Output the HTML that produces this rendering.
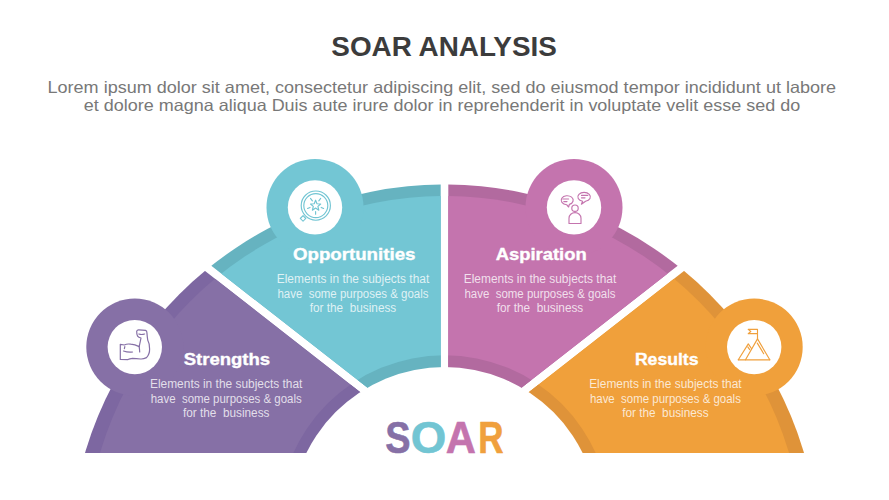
<!DOCTYPE html>
<html><head><meta charset="utf-8"><style>
html,body{margin:0;padding:0;background:#fff;}
svg{display:block;}
text{font-family:"Liberation Sans",sans-serif;text-anchor:middle;}
.ti{font-weight:bold;font-size:27px;fill:#3c3c3c;}
.st{font-size:16.5px;fill:#787878;}
.hd{font-weight:bold;font-size:16px;fill:#ffffff;stroke:#ffffff;stroke-width:0.35px;}
.bd{font-size:12.3px;fill:#ffffff;fill-opacity:0.78;white-space:pre;}
.so{font-weight:bold;font-size:43.5px;stroke-width:0.6px;stroke-linejoin:round;}
</style></head><body>
<svg width="889" height="500" viewBox="0 0 889 500">
<defs>
<clipPath id="cb"><rect x="0" y="0" width="889" height="453.0"/></clipPath>
<clipPath id="wS"><polygon points="442.04,456.15 -503.58,-282.64 -2000.00,-282.64 -2000.00,503.00 442.04,503.00"/></clipPath>
<clipPath id="wO"><polygon points="446.96,449.85 -498.65,-288.95 -498.65,-2000.00 440.70,-2000.00 440.70,503.00 446.96,503.00"/></clipPath>
<clipPath id="wA"><polygon points="442.04,449.85 1387.65,-288.95 1387.65,-2000.00 448.30,-2000.00 448.30,503.00 442.04,503.00"/></clipPath>
<clipPath id="wR"><polygon points="446.96,456.15 1392.58,-282.64 2889.00,-282.64 2889.00,503.00 446.96,503.00"/></clipPath>
</defs>
<g clip-path="url(#cb)">
<g clip-path="url(#wS)">
<circle cx="444.5" cy="559.5" r="375.0" fill="#7d67a1"/>
<circle cx="444.5" cy="555.5" r="359.5" fill="#8670a6"/>
<circle cx="444.5" cy="521.0" r="165.8" fill="#7d67a1"/>
</g>
<g clip-path="url(#wO)">
<circle cx="444.5" cy="559.5" r="375.0" fill="#66b3c0"/>
<circle cx="444.5" cy="555.5" r="359.5" fill="#73c6d4"/>
<circle cx="444.5" cy="521.0" r="165.8" fill="#66b3c0"/>
</g>
<g clip-path="url(#wA)">
<circle cx="444.5" cy="559.5" r="375.0" fill="#b26a9f"/>
<circle cx="444.5" cy="555.5" r="359.5" fill="#c474ae"/>
<circle cx="444.5" cy="521.0" r="165.8" fill="#b26a9f"/>
</g>
<g clip-path="url(#wR)">
<circle cx="444.5" cy="559.5" r="375.0" fill="#df9339"/>
<circle cx="444.5" cy="555.5" r="359.5" fill="#f0a03b"/>
<circle cx="444.5" cy="521.0" r="165.8" fill="#df9339"/>
</g>
<circle cx="444.5" cy="521.0" r="154.0" fill="#fff"/>
</g>
<circle cx="134.8" cy="347.1" r="48.5" fill="#8670a6"/>
<circle cx="134.8" cy="347.1" r="27.2" fill="#fff"/>
<circle cx="315.0" cy="207.4" r="48.5" fill="#73c6d4"/>
<circle cx="315.0" cy="207.4" r="27.2" fill="#fff"/>
<circle cx="574.0" cy="207.4" r="48.5" fill="#c474ae"/>
<circle cx="574.0" cy="207.4" r="27.2" fill="#fff"/>
<circle cx="754.2" cy="347.1" r="48.5" fill="#f0a03b"/>
<circle cx="754.2" cy="347.1" r="27.2" fill="#fff"/>

<g transform="translate(110,325)" fill="none" stroke="#8670a6" stroke-width="1.2" stroke-linejoin="round" stroke-linecap="round">
<path d="M10.3,34.4 L10.3,19.3 L14.4,20 Q17,18.6 20.7,19.2 Q25,19.4 29.2,21.6 L31,13 Q28.5,12.5 27.6,11.2 Q26.6,9 26.7,6.1 Q27.2,4.8 28.8,4.9 L35.5,5.4 Q37,6 36.9,7.6 Q37.2,12 37.8,15.3 Q39.8,19 39.6,24 Q39.8,29 36.5,32.6 Q33.5,34.2 30.6,34 Q26,33.3 22.5,33.3 Q19.5,33.6 18,34.6 Z"/>
<path d="M28.8,9 Q31.5,10 34.6,9"/>
<path d="M29.2,21.6 Q29.6,24.5 29.7,27"/>
<path d="M13.5,26 Q18,27.6 22.5,27"/>
<path d="M14.8,21.6 L14.4,23.6"/>
</g>
<g transform="translate(295,185)" fill="none" stroke="#72c5d3" stroke-width="1.15" stroke-linejoin="round" stroke-linecap="round">
<circle cx="20.8" cy="20.6" r="14.6"/>
<circle cx="20.8" cy="20.6" r="12.0"/>
<polygon points="20.6,15.2 22.0,18.8 25.7,19.0 22.9,21.4 23.8,25.2 20.6,23.1 17.4,25.2 18.3,21.4 15.5,19.0 19.2,18.8"/>
<path d="M15.5,13.4 L17.4,15.8 M25.7,13.4 L23.8,15.8 M12.6,23.5 L15.0,22.4 M28.6,23.5 L26.2,22.4 M20.6,26.6 L20.6,29.2"/>
<rect x="6.1" y="31.5" width="3.9" height="3.9" transform="rotate(45 8.05 33.45)"/>
</g>
<g transform="translate(550,183)" fill="none" stroke="#c474ae" stroke-width="1.15" stroke-linejoin="round" stroke-linecap="round">
<circle cx="25" cy="25.2" r="3.2"/>
<path d="M19,40.5 V35.2 A6,5.6 0 0 1 31,35.2 V40.5 Z"/>
<path d="M16.6,21.7 A6,4.5 0 1 1 19.4,21.4 L18.6,24 Z"/>
<path d="M12.8,16 L18.6,16 M13.8,18.6 L17,18.6"/>
<path d="M32.6,18.2 A6.3,4.5 0 1 1 35.6,18.2 L31.4,21.2 Z"/>
<path d="M31.5,12.4 L37.8,12.4 M31.5,14.8 L35,14.8"/>
</g>
<g transform="translate(736,326)" fill="none" stroke="#f0a03d" stroke-width="1.15" stroke-linejoin="round" stroke-linecap="round">
<path d="M2.3,33.8 L33.8,33.8"/>
<path d="M9.5,33.8 L21.5,12.9 L33.8,33.8"/>
<path d="M21.3,17.1 L27.7,27.7"/>
<path d="M2.3,33.8 L12.3,17.9 L15.6,22.8"/>
<path d="M11.8,20.9 L13.7,23.6"/>
<path d="M21.5,12.9 L21.5,3.4 L12.2,3.4 L14.8,5.5 L12.2,7.6 L21.5,7.6"/>
</g>


<text x="444.1" y="55.9" class="ti" textLength="225.5" lengthAdjust="spacingAndGlyphs">SOAR ANALYSIS</text>
<text x="441.8" y="92.8" class="st" textLength="788.5" lengthAdjust="spacingAndGlyphs">Lorem ipsum dolor sit amet, consectetur adipiscing elit, sed do eiusmod tempor incididunt ut labore</text>
<text x="442" y="111" class="st" textLength="716.5" lengthAdjust="spacingAndGlyphs">et dolore magna aliqua Duis aute irure dolor in reprehenderit in voluptate velit esse sed do</text>
<text x="226.9" y="365.3" class="hd" textLength="86.5" lengthAdjust="spacingAndGlyphs">Strengths</text>
<text x="354.2" y="259.9" class="hd" textLength="122.5" lengthAdjust="spacingAndGlyphs">Opportunities</text>
<text x="541.2" y="260" class="hd" textLength="91" lengthAdjust="spacingAndGlyphs">Aspiration</text>
<text x="666.7" y="365.3" class="hd" textLength="63.6" lengthAdjust="spacingAndGlyphs">Results</text>
<text x="226.2" y="388" class="bd" textLength="152.5" lengthAdjust="spacingAndGlyphs">Elements in the subjects that</text>
<text x="226.2" y="402.50" class="bd" xml:space="preserve" textLength="151" lengthAdjust="spacingAndGlyphs">have  some purposes &amp; goals</text>
<text x="226.2" y="417.00" class="bd" xml:space="preserve" textLength="86.5" lengthAdjust="spacingAndGlyphs">for the  business</text>
<text x="353" y="283" class="bd" textLength="152.5" lengthAdjust="spacingAndGlyphs">Elements in the subjects that</text>
<text x="353" y="297.50" class="bd" xml:space="preserve" textLength="151" lengthAdjust="spacingAndGlyphs">have  some purposes &amp; goals</text>
<text x="353" y="312.00" class="bd" xml:space="preserve" textLength="86.5" lengthAdjust="spacingAndGlyphs">for the  business</text>
<text x="540" y="283.2" class="bd" textLength="152.5" lengthAdjust="spacingAndGlyphs">Elements in the subjects that</text>
<text x="540" y="297.70" class="bd" xml:space="preserve" textLength="151" lengthAdjust="spacingAndGlyphs">have  some purposes &amp; goals</text>
<text x="540" y="312.20" class="bd" xml:space="preserve" textLength="86.5" lengthAdjust="spacingAndGlyphs">for the  business</text>
<text x="665.4" y="388" class="bd" textLength="152.5" lengthAdjust="spacingAndGlyphs">Elements in the subjects that</text>
<text x="665.4" y="402.50" class="bd" xml:space="preserve" textLength="151" lengthAdjust="spacingAndGlyphs">have  some purposes &amp; goals</text>
<text x="665.4" y="417.00" class="bd" xml:space="preserve" textLength="86.5" lengthAdjust="spacingAndGlyphs">for the  business</text>
<text x="397.85" y="452.9" class="so" fill="#8670a6" stroke="#8670a6" textLength="25.3" lengthAdjust="spacingAndGlyphs">S</text>
<text x="428.55" y="452.9" class="so" fill="#72c5d3" stroke="#72c5d3" textLength="35.5" lengthAdjust="spacingAndGlyphs">O</text>
<text x="460.85" y="452.9" class="so" fill="#c474ae" stroke="#c474ae" textLength="30.2" lengthAdjust="spacingAndGlyphs">A</text>
<text x="490.95" y="452.9" class="so" fill="#f0a03d" stroke="#f0a03d" textLength="25.3" lengthAdjust="spacingAndGlyphs">R</text>

</svg>
</body></html>
